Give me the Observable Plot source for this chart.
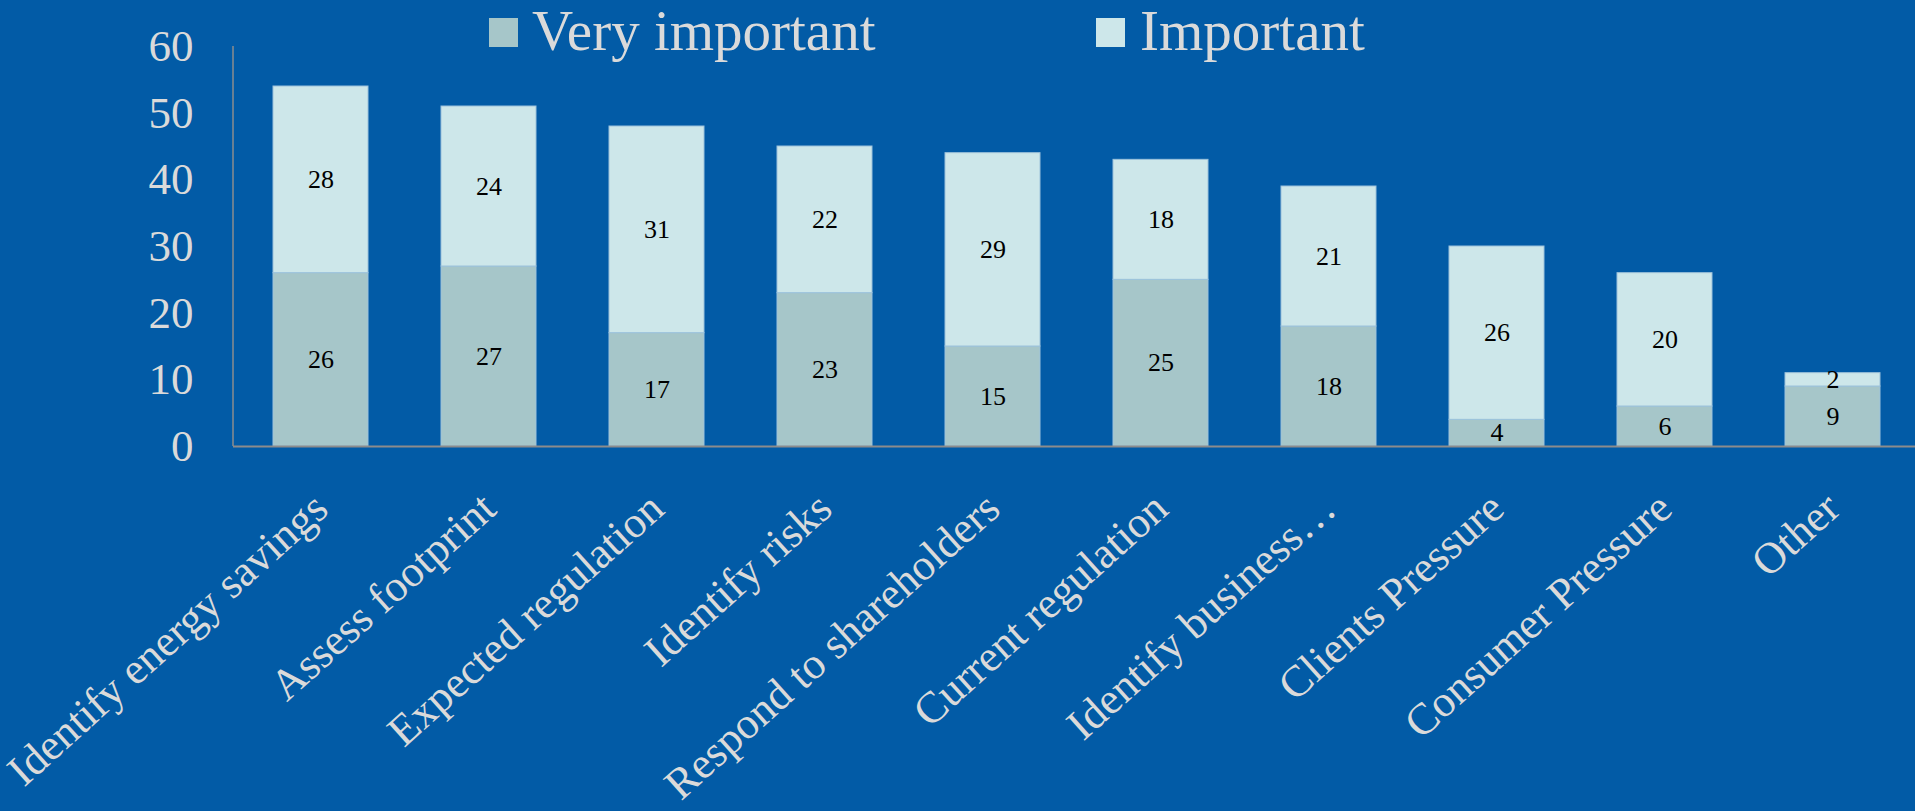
<!DOCTYPE html>
<html>
<head>
<meta charset="utf-8">
<script src="https://cdn.jsdelivr.net/npm/d3@7"></script>
<script src="https://cdn.jsdelivr.net/npm/@observablehq/plot@0.6"></script>
<style>
  html, body { margin: 0; padding: 0; background: #025BA6; overflow: hidden; }
  #wrap { position: relative; width: 1915px; height: 811px; }
  .lg-sw { position: absolute; width: 29px; height: 29px; }
  .lg-tx { position: absolute; font-family: 'Liberation Serif', serif; font-size: 57px; line-height: 56px; color: #DADADA; white-space: nowrap; }
</style>
</head>
<body>
<div id="wrap"></div>
<script>
const categories = ["Identify energy savings", "Assess footprint", "Expected regulation", "Identify risks",
  "Respond to shareholders", "Current regulation", "Identify business…", "Clients Pressure",
  "Consumer Pressure", "Other"];
const veryImportant = [26, 27, 17, 23, 15, 25, 18, 4, 6, 9];
const important = [28, 24, 31, 22, 29, 18, 21, 26, 20, 2];
const seriesNames = ["Very important", "Important"];
const seriesColors = ["#A6C6C9", "#CDE7EA"];
const yTicks = [0, 10, 20, 30, 40, 50, 60];

const rows = [
  ...categories.map((c, i) => ({category: c, series: seriesNames[0], value: veryImportant[i]})),
  ...categories.map((c, i) => ({category: c, series: seriesNames[1], value: important[i]}))
];

const plot = Plot.plot({
  width: 1915,
  height: 811,
  marginTop: 46,
  marginBottom: 365,
  marginLeft: 233,
  marginRight: -5,
  style: {background: "#025BA6", fontFamily: "'Liberation Serif', serif", overflow: "visible"},
  x: {domain: categories, paddingInner: 0.435, paddingOuter: 0.21, axis: null},
  y: {domain: [0, 60], axis: null},
  color: {domain: seriesNames, range: seriesColors},
  marks: [
    Plot.barY(rows, {x: "category", y: "value", z: "series", fill: "series", stroke: "#9CC2DB", strokeWidth: 1}),
    Plot.ruleY([0], {stroke: "#8C8C8C", strokeWidth: 2}),
    Plot.axisY({ticks: yTicks, tickSize: 0, tickPadding: 40, fontSize: 45, fill: "#DADADA", label: null}),
    Plot.text(rows, Plot.stackY({x: "category", y: "value", z: "series", text: d => String(d.value), fill: "#000", fontSize: 26})),
    Plot.text(categories, {x: d => d, frameAnchor: "bottom", dy: 55, rotate: -42, textAnchor: "end", lineAnchor: "middle", fontSize: 44, fill: "#DADADA"})
  ]
});

// vertical axis line at the left edge of the x range
const sx = plot.scale("x");
const sy = plot.scale("y");
d3.select(plot).append("line")
  .attr("x1", sx.range[0]).attr("x2", sx.range[0])
  .attr("y1", sy.range[0]).attr("y2", sy.range[1])
  .attr("stroke", "#8C8C8C").attr("stroke-width", 1.5);

const wrap = document.getElementById("wrap");
wrap.appendChild(plot);

// legend (HTML overlay above plot area)
const legendPos = [{sw: 489, tx: 532}, {sw: 1096, tx: 1140}];
seriesNames.forEach((name, i) => {
  const sw = document.createElement("div");
  sw.className = "lg-sw";
  sw.style.left = legendPos[i].sw + "px";
  sw.style.top = "18px";
  sw.style.background = seriesColors[i];
  wrap.appendChild(sw);
  const tx = document.createElement("div");
  tx.className = "lg-tx";
  tx.style.left = legendPos[i].tx + "px";
  tx.style.top = "3px";
  tx.textContent = name;
  wrap.appendChild(tx);
});
</script>
</body>
</html>
